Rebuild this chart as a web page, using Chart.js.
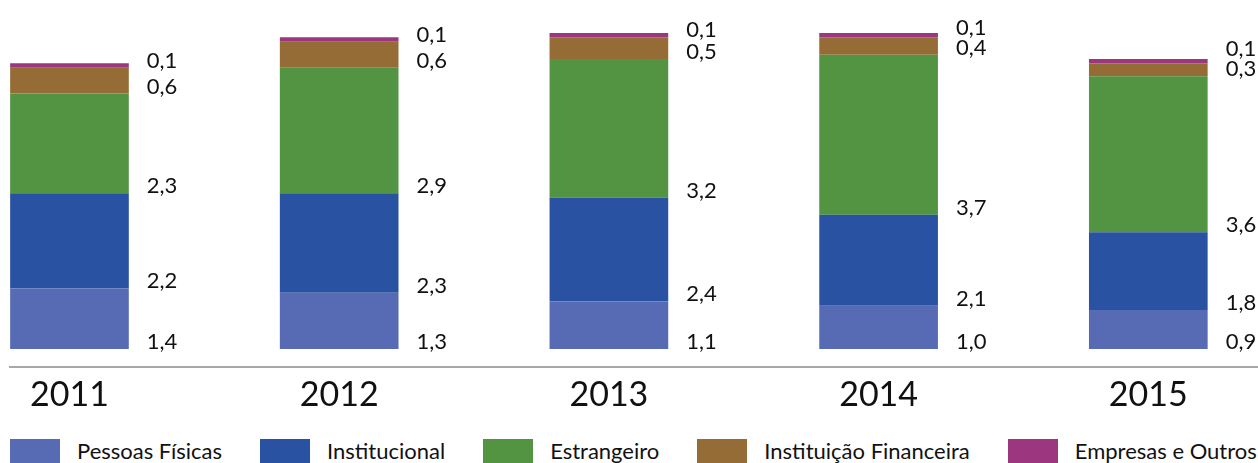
<!DOCTYPE html>
<html>
<head>
<meta charset="utf-8">
<script src="https://cdn.jsdelivr.net/npm/chart.js@4/dist/chart.umd.min.js"></script>
<style>
  body { margin: 0; background: #fff; }
  #wrap { position: relative; width: 1258px; height: 463px; overflow: hidden; font-family: Lato, sans-serif; }
  #chart { position: absolute; left: 0; top: 0; }
  #legend { position: absolute; left: 10px; top: 439px; display: flex; gap: 38px; }
  .item { display: flex; align-items: center; color: #111; font-size: 22px; line-height: 24px; white-space: nowrap; }
  .swatch { display: inline-block; width: 50px; height: 24px; margin-right: 17px; }
</style>
</head>
<body>
<div id="wrap">
  <canvas id="chart" width="1258" height="430"></canvas>
  <div id="legend"></div>
</div>
<script>
const years = [2011, 2012, 2013, 2014, 2015]
const pessoasFisicas = [1.4, 1.3, 1.1, 1.0, 0.9]
const institucional = [2.2, 2.3, 2.4, 2.1, 1.8]
const estrangeiro = [2.3, 2.9, 3.2, 3.7, 3.6]
const instituicaoFinanceira = [0.6, 0.6, 0.5, 0.4, 0.3]
const empresasOutros = [0.1, 0.1, 0.1, 0.1, 0.1]

const seriesNames = ['Pessoas Físicas', 'Institucional', 'Estrangeiro', 'Instituição Financeira', 'Empresas e Outros']
const seriesColors = ['#566bb3', '#2a52a2', '#529442', '#966c36', '#9c367f']
const seriesValues = [pessoasFisicas, institucional, estrangeiro, instituicaoFinanceira, empresasOutros]

const fmt = v => v.toFixed(1).replace('.', ',')

// value labels to the right of each column, baseline on the bottom of the segment,
// pushed upwards when two labels would collide
const sideLabels = {
	id: 'sideLabels',
	afterDatasetsDraw(chart) {
		const ctx = chart.ctx
		ctx.save()
		ctx.font = '22px Lato'
		ctx.fillStyle = '#111'
		ctx.textAlign = 'left'
		ctx.textBaseline = 'alphabetic'
		years.forEach((year, i) => {
			let prev = Infinity
			chart.data.datasets.forEach((ds, d) => {
				const bar = chart.getDatasetMeta(d).data[i]
				const y = Math.min(bar.base, prev - 20)
				ctx.fillText(fmt(ds.data[i]), bar.x + bar.width / 2 + 18, y)
				prev = y
			})
		})
		ctx.restore()
	}
}

const chart = new Chart(document.getElementById('chart'), {
	type: 'bar',
	data: {
		labels: years,
		datasets: seriesNames.map((name, k) => ({
			label: name,
			data: seriesValues[k],
			backgroundColor: seriesColors[k],
			barPercentage: 0.44,
			categoryPercentage: 1
		}))
	},
	options: {
		responsive: false,
		animation: false,
		layout: { padding: { top: 33, left: 10, right: 1, bottom: 0 } },
		plugins: {
			legend: { display: false },
			tooltip: { enabled: false }
		},
		scales: {
			x: {
				type: 'linear',
				stacked: true,
				offset: false,
				min: years[0] - 0.2205,
				max: years[years.length - 1] + 0.403,
				afterBuildTicks: scale => {
					scale.ticks = years.map(v => ({ value: v }))
				},
				afterFit: scale => {
					scale.height = 63
				},
				grid: { display: false, drawTicks: false },
				border: { display: true, color: '#a8a8a8', width: 2 },
				ticks: {
					callback: v => String(v),
					autoSkip: false,
					maxRotation: 0,
					padding: 8,
					color: '#111',
					font: { family: 'Lato', size: 34 }
				}
			},
			y: {
				stacked: true,
				display: false,
				min: -0.414,
				max: 7.3
			}
		}
	},
	plugins: [sideLabels]
})

// legend built from the chart's datasets
const legend = document.getElementById('legend')
chart.data.datasets.forEach(ds => {
	const item = document.createElement('div')
	item.className = 'item'
	const sw = document.createElement('span')
	sw.className = 'swatch'
	sw.style.background = ds.backgroundColor
	item.appendChild(sw)
	item.appendChild(document.createTextNode(ds.label))
	legend.appendChild(item)
})
</script>
</body>
</html>
